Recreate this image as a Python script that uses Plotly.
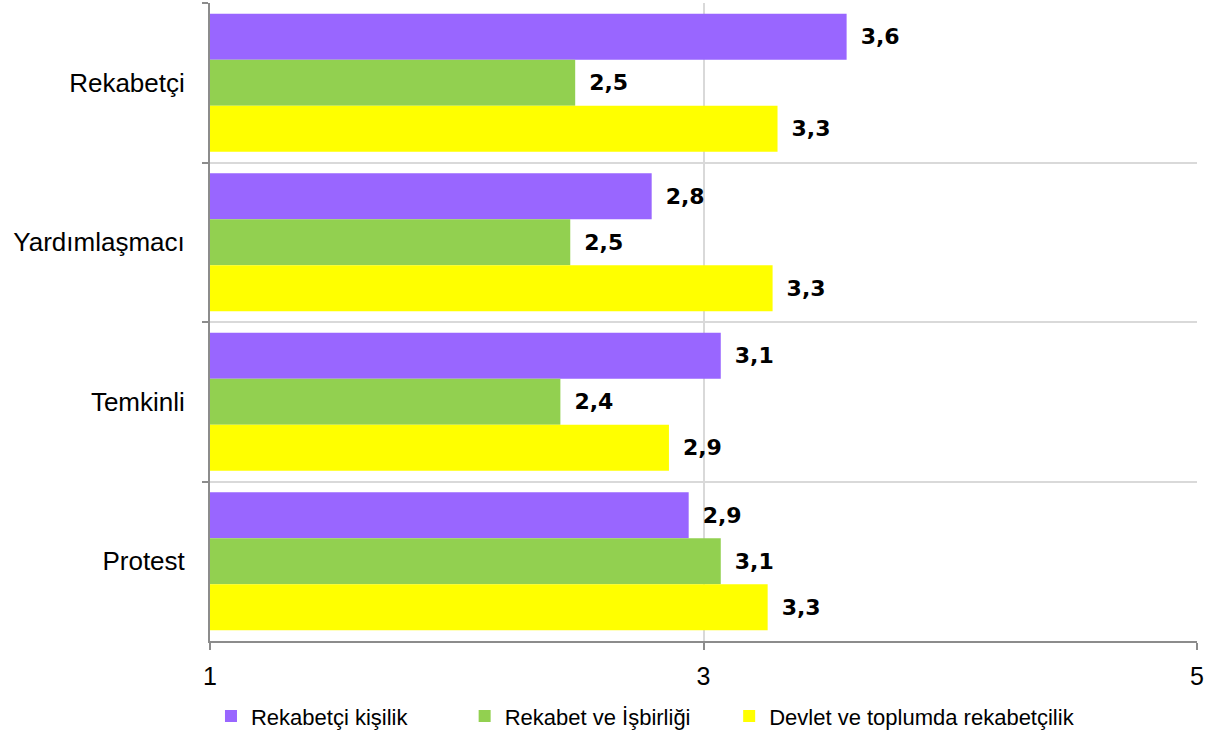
import plotly.graph_objects as go

categories = ["Rekabetçi", "Yardımlaşmacı", "Temkinli", "Protest"]
series_names = ["Rekabetçi kişilik", "Rekabet ve İşbirliği", "Devlet ve toplumda rekabetçilik"]
rekabetci_kisilik = [3.58, 2.79, 3.07, 2.94]
rekabet_isbirligi = [2.48, 2.46, 2.42, 3.07]
devlet_toplum = [3.30, 3.28, 2.86, 3.26]
x_ticks = [1, 3, 5]

colors = ["#9966FF", "#92D050", "#FFFF00"]
series = [rekabetci_kisilik, rekabet_isbirligi, devlet_toplum]
legend_ids = ["legend", "legend2", "legend3"]
legend_x = [0.001, 0.258, 0.526]

fig = go.Figure()
for name, vals, col, lid in zip(series_names, series, colors, legend_ids):
    fig.add_trace(go.Bar(
        y=categories, x=vals, name=name, orientation="h", legend=lid,
        showlegend=True,
        marker=dict(color=col, line=dict(width=0)),
        text=["\u2002" + f"{v:.1f}".replace(".", ",") for v in vals],
        textposition="outside", cliponaxis=False,
        textfont=dict(family="DejaVu Sans", size=22, color="#000000", weight="bold"),
    ))

leg_common = dict(orientation="h", xanchor="left", y=-0.118, yanchor="middle",
                  font=dict(family="Liberation Sans Narrow, Liberation Sans", size=22),
                  itemwidth=30, bgcolor="rgba(0,0,0,0)", visible=True)
fig.update_layout(
    width=1213, height=736, showlegend=True,
    barmode="group", bargap=0.135, bargroupgap=0,
    paper_bgcolor="white", plot_bgcolor="white",
    margin=dict(l=210, r=16, t=3, b=95, autoexpand=False),
    font=dict(family="Liberation Sans", color="#000000"),
    legend=dict(x=legend_x[0], **leg_common),
    legend2=dict(x=legend_x[1], **leg_common),
    legend3=dict(x=legend_x[2], **leg_common),
)
fig.update_xaxes(range=[1, 5], tickvals=x_ticks, ticktext=[str(t) for t in x_ticks],
                 showgrid=True, gridcolor="#D9D9D9", gridwidth=1.5,
                 showline=True, linecolor="#8C8C8C", linewidth=2,
                 ticks="outside", ticklen=7, tickcolor="#8C8C8C", tickwidth=2,
                 tickfont=dict(size=25, family="Liberation Sans"), ticklabelstandoff=5,
                 zeroline=False, fixedrange=True, automargin=False)
fig.update_yaxes(categoryorder="array", categoryarray=categories, autorange="reversed",
                 tickson="boundaries", showgrid=True, gridcolor="#D9D9D9", gridwidth=1.5,
                 showline=True, linecolor="#8C8C8C", linewidth=2,
                 ticks="outside", ticklen=6, tickcolor="#8C8C8C", tickwidth=2,
                 tickfont=dict(size=26, family="Liberation Sans"), ticklabelstandoff=18,
                 fixedrange=True, automargin=False)

fig.write_html("out.html")
